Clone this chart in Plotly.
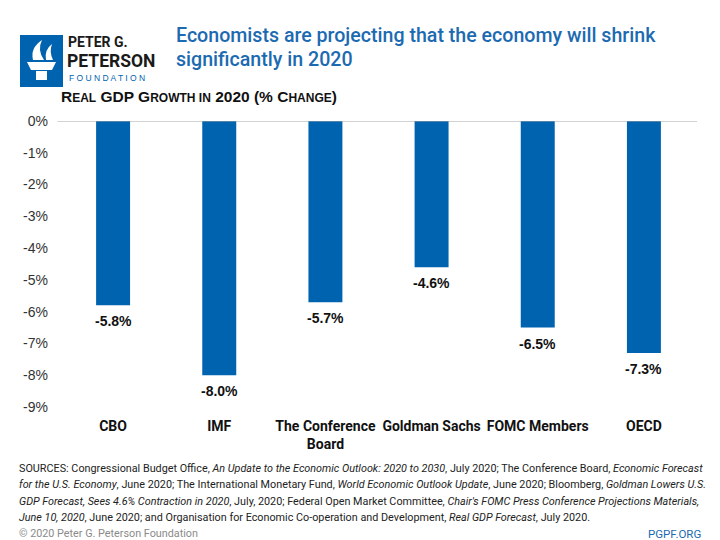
import plotly.graph_objects as go

categories = ["CBO", "IMF", "The Conference<br>Board", "Goldman Sachs", "FOMC Members", "OECD"]
values = [-5.8, -8.0, -5.7, -4.6, -6.5, -7.3]
tick_vals = [0, -1, -2, -3, -4, -5, -6, -7, -8, -9]
tick_text = ["0%", "-1%", "-2%", "-3%", "-4%", "-5%", "-6%", "-7%", "-8%", "-9%"]

BLUE = "#0063AF"
TITLE_BLUE = "#1C6AB1"
COND = "Roboto, sans-serif"
ARIAL = "Liberation Sans, Arial, sans-serif"

fig = go.Figure()
fig.add_trace(go.Bar(
    x=categories, y=values, width=0.32,
    marker=dict(color=BLUE, line=dict(width=0)),
    hoverinfo="skip",
))

fig.update_layout(
    width=720, height=540,
    margin=dict(l=60, r=23, t=121, b=133),
    paper_bgcolor="white", plot_bgcolor="white",
    showlegend=False,
    xaxis=dict(showgrid=False, showline=False, zeroline=False, ticks="",
               tickvals=categories, ticktext=[f"<b>{c}</b>" for c in categories],
               tickfont=dict(family=COND, size=14, color="#111111"),
               ticklabelstandoff=9, fixedrange=True),
    yaxis=dict(range=[-9, 0], tickvals=tick_vals, ticktext=tick_text,
               showgrid=False, zeroline=False, showline=False, ticks="",
               tickfont=dict(family=ARIAL, size=14, color="#333333"),
               ticklabelstandoff=11),
)

# value labels below bar ends
for c, v in zip(categories, values):
    fig.add_annotation(x=c, y=v, xref="x", yref="y", yanchor="top", yshift=-6,
                       showarrow=False, text=f"<b>{v:.1f}%</b>",
                       font=dict(family=ARIAL, size=14, color="#111111"))

# zero line
fig.add_shape(type="line", xref="paper", yref="y", x0=-0.004, x1=1.0, y0=0, y1=0,
              line=dict(color="#A6A6A6", width=1.2))

def px(x):
    return (x - 60) / (720 - 60 - 23)
def py(y):
    return (540 - 133 - y) / (540 - 121 - 133)

# Logo block
fig.add_shape(type="rect", xref="paper", yref="paper",
              x0=px(20), x1=px(63), y0=py(87), y1=py(35),
              fillcolor=BLUE, line=dict(width=0), layer="above")
fig.add_shape(type="path", xref="paper", yref="paper",
              path=f"M {px(27)} {py(62)} L {px(56)} {py(62)} L {px(52)} {py(70)} L {px(31)} {py(70)} Z",
              fillcolor="white", line=dict(width=0))
fig.add_shape(type="rect", xref="paper", yref="paper",
              x0=px(36), x1=px(47), y0=py(80), y1=py(71),
              fillcolor="white", line=dict(width=0))
fig.add_shape(type="path", xref="paper", yref="paper",
              path=f"M {px(33)} {py(60)} Q {px(30)} {py(48)} {px(42)} {py(40)} Q {px(37)} {py(50)} {px(44)} {py(60)} Z",
              fillcolor="white", line=dict(width=0))
fig.add_shape(type="path", xref="paper", yref="paper",
              path=f"M {px(46)} {py(60)} Q {px(44)} {py(50)} {px(52)} {py(44)} Q {px(49)} {py(52)} {px(53)} {py(60)} Z",
              fillcolor="white", line=dict(width=0))

ann = []
ann.append(dict(x=66, y=32, text="<b>PETER G.</b>", font=dict(family=COND, size=14, color="#1a1a1a")))
ann.append(dict(x=65, y=49, text="<b>PETERSON</b>", font=dict(family=COND, size=17.5, color="#1a1a1a")))
ann.append(dict(x=67, y=71.5, text="F O U N D A T I O N", font=dict(family=ARIAL, size=8.5, color=BLUE)))
ann.append(dict(x=174, y=22, text="Economists are projecting that the economy will shrink",
                font=dict(family=COND, size=19.6, color=TITLE_BLUE, weight=500)))
ann.append(dict(x=174, y=46, text="significantly in 2020",
                font=dict(family=COND, size=19.6, color=TITLE_BLUE, weight=500)))
ann.append(dict(x=59, y=86,
                text="<b>R<span style='font-size:12px'>EAL</span> GDP G<span style='font-size:12px'>ROWTH IN</span> 2020 (% C<span style='font-size:12px'>HANGE</span>)</b>",
                font=dict(family=ARIAL, size=15.5, color="#111111")))
src_lines = [
    "SOURCES: Congressional Budget Office, <i>An Update to the Economic Outlook: 2020 to 2030</i>, July 2020; The Conference Board, <i>Economic Forecast</i>",
    "<i>for the U.S. Economy</i>, June 2020; The International Monetary Fund, <i>World Economic Outlook Update</i>, June 2020; Bloomberg, <i>Goldman Lowers U.S.</i>",
    "<i>GDP Forecast, Sees 4.6% Contraction in 2020</i>, July, 2020; Federal Open Market Committee, <i>Chair's FOMC Press Conference Projections Materials,</i>",
    "<i>June 10, 2020</i>, June 2020; and Organisation for Economic Co-operation and Development, <i>Real GDP Forecast</i>, July 2020.",
]
for i, line in enumerate(src_lines):
    ann.append(dict(x=17, y=460 + i * 16.3, text=line, font=dict(family=COND, size=10.8, color="#222222")))
ann.append(dict(x=17, y=525, text="© 2020 Peter G. Peterson Foundation",
                font=dict(family=COND, size=10.8, color="#8a8a8a")))

for a in ann:
    fig.add_annotation(xref="paper", yref="paper", x=px(a["x"]), y=py(a["y"]),
                       xanchor="left", yanchor="top", align="left", showarrow=False,
                       text=a["text"], font=a["font"])
fig.add_annotation(xref="paper", yref="paper", x=px(703), y=py(525), xanchor="right", yanchor="top",
                   showarrow=False, text="PGPF.ORG",
                   font=dict(family=COND, size=11.5, color=TITLE_BLUE))

fig.write_html("out.html")
